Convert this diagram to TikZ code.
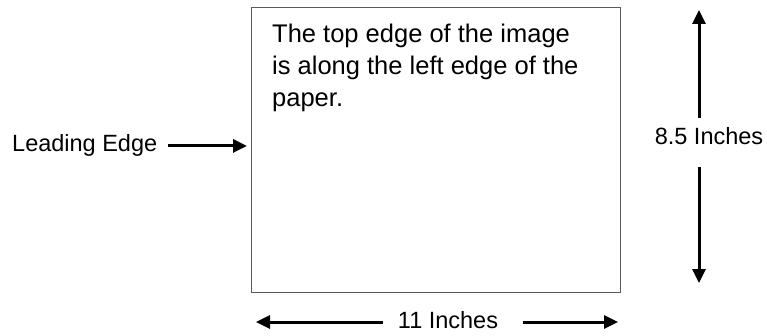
\documentclass[tikz,border=0pt]{standalone}
\usepackage{fontspec}
\setmainfont{Liberation Sans}
\usepackage{tikz}
\usetikzlibrary{arrows.meta,positioning}
\definecolor{pagegray}{RGB}{89,89,89}

\begin{document}
\begin{tikzpicture}[x=1pt, y=1pt,
  lbl/.style={font=\fontsize{23.5}{29.5}\selectfont, inner sep=0pt},
  dim/.style={-{Triangle[length=14pt,width=13pt]}, line width=3pt},
  sheet/.style={draw=pagegray, line width=1.4pt, inner sep=0pt,
                minimum width=369pt, minimum height=285pt}
]
  \useasboundingbox (0,0) rectangle (767,335);
  % the sheet
  \node[sheet, anchor=south west] (page) at (251,42) {};
  \node[lbl, font=\fontsize{25.5}{32}\selectfont, anchor=north west, align=left] (note) at (272,311)
    {The top edge of the image\\is along the left edge of the\\paper.};
  % leading edge
  \node[lbl, anchor=base west] (lead) at (12,183) {Leading Edge};
  \draw[dim] ([xshift=11pt]lead.east) -- ([xshift=-4pt]lead.east -| page.west);
  % height
  \node[lbl] (hlab) at (709,199) {8.5 Inches};
  \coordinate (htop) at (699,325);
  \coordinate (hbot) at (699,52);
  \draw[dim, shorten <=9pt] (hlab.north -| htop) -- (htop);
  \draw[dim, shorten <=22pt] (hlab.south -| hbot) -- (hbot);
  % width
  \node[lbl] (wlab) at (448,15) {11 Inches};
  \coordinate (wl) at (256,13);
  \coordinate (wr) at (618,13);
  \draw[dim, shorten <=15pt] (wlab.west |- wl) -- (wl);
  \draw[dim, shorten <=25pt] (wlab.east |- wr) -- (wr);
\end{tikzpicture}
\end{document}
